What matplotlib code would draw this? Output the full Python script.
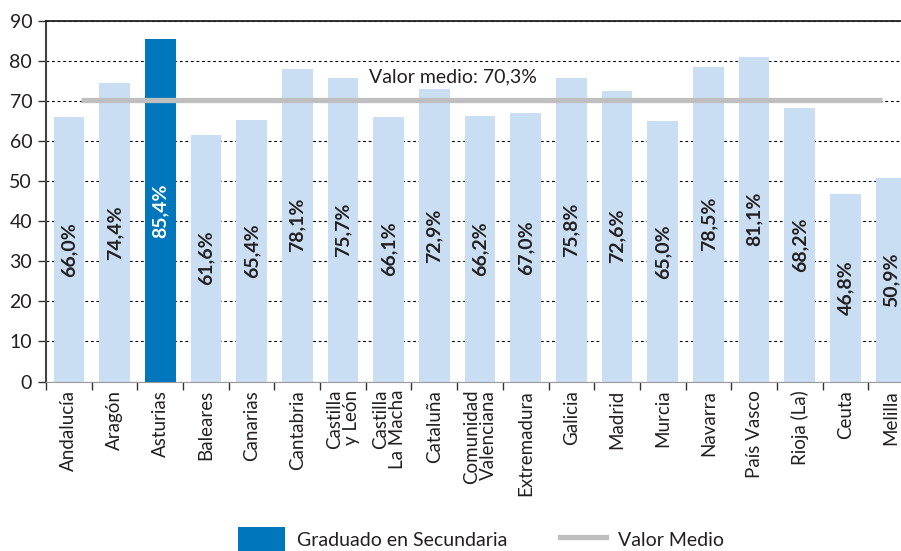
import matplotlib
matplotlib.use('Agg')
import matplotlib.pyplot as plt
from matplotlib.patches import Patch
from matplotlib.lines import Line2D


### DATA ###

regions = ['Andalucía', 'Aragón', 'Asturias', 'Baleares', 'Canarias',
           'Cantabria', 'Castilla\ny León', 'Castilla\nLa Macha', 'Cataluña',
           'Comunidad\nValenciana', 'Extremadura', 'Galicia', 'Madrid',
           'Murcia', 'Navarra', 'País Vasco', 'Rioja (La)', 'Ceuta', 'Melilla']
values = [66.0, 74.4, 85.4, 61.6, 65.4, 78.1, 75.7, 66.1, 72.9, 66.2, 67.0,
          75.8, 72.6, 65.0, 78.5, 81.1, 68.2, 46.8, 50.9]
highlight = 'Asturias'
mean_value = 70.3
yticks = [0, 10, 20, 30, 40, 50, 60, 70, 80, 90]


### STYLE ###

light_blue = '#cadef3'
dark_blue = '#0077bd'
grey = '#bfbfbf'
text_col = '#231f20'
font = ['Lato', 'DejaVu Sans']

plt.rcParams['font.family'] = font


def fmt(v):
    """ spanish decimal comma """
    return '{:.1f}%'.format(v).replace('.', ',')


### PLOT ###

fig = plt.figure(figsize=(9.01, 5.51), dpi=100)
ax = fig.add_axes([0.0511, 0.3076, 0.9633, 0.6543])

x = list(range(len(regions)))
colors = [dark_blue if r == highlight else light_blue for r in regions]
ax.bar(x, values, width=0.67, color=colors, zorder=2)

# value labels inside the bars
for xi, v, r in zip(x, values, regions):
    ax.text(xi, v / 2, fmt(v), rotation=90, ha='center', va='center',
            fontsize=14, fontweight='bold',
            color='white' if r == highlight else text_col, zorder=4)

# mean line
ax.hlines(mean_value, 0.27, 17.8, color=grey, lw=3.8, zorder=3)
ax.text(8.4, 76.1, 'Valor medio: ' + fmt(mean_value), ha='center',
        va='center', fontsize=14, color=text_col, zorder=4)

# axes
ax.set_xlim(-0.5, len(regions) - 0.5)
ax.set_ylim(0, 90)
ax.set_yticks(yticks)
ax.set_yticklabels([str(t) for t in yticks], fontsize=14, color=text_col)
ax.yaxis.grid(True, color='black', lw=0.8, linestyle=(0, (2.5, 2.5)),
              zorder=1)
ax.set_axisbelow(True)

ax.set_xticks(x)
ax.set_xticklabels(regions, rotation=90, fontsize=13.5, color=text_col,
                   va='top', ha='center', multialignment='right',
                   linespacing=1.0)
ax.set_xticks([i + 0.5 for i in range(-1, len(regions))], minor=True)
ax.tick_params(axis='x', which='major', length=0, pad=6)
ax.tick_params(axis='x', which='minor', length=6, width=1, color='#333333')
ax.tick_params(axis='y', length=6, width=1, color='#333333', pad=4)

ax.spines['right'].set_visible(False)
ax.spines['left'].set_color('#444444')
ax.spines['left'].set_linewidth(1.5)
ax.spines['top'].set_color('#222222')
ax.spines['top'].set_linewidth(1.3)
ax.spines['bottom'].set_color('#999999')
ax.spines['bottom'].set_linewidth(0.8)

# legend
handles = [Patch(facecolor=dark_blue, edgecolor='none'),
           Line2D([0], [0], color=grey, lw=3.8)]
fig.legend(handles, ['Graduado en Secundaria', 'Valor Medio'],
           loc='center', bbox_to_anchor=(0.534, 0.02), ncol=2, frameon=False,
           fontsize=14, handlelength=2.4, handleheight=1.6,
           columnspacing=2.7, handletextpad=0.6, labelcolor=text_col)

fig.savefig('out.png', dpi=100)
